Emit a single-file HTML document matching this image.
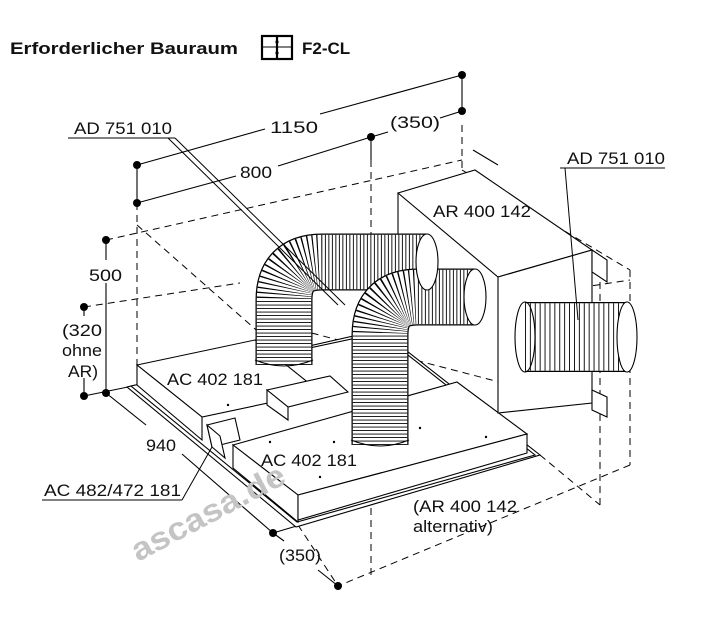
<!DOCTYPE html>
<html><head><meta charset="utf-8"><style>
html,body{margin:0;padding:0;background:#fff}
svg{display:block}
text{font-family:"Liberation Sans",Arial,sans-serif;fill:#111}
</style></head><body>
<svg width="705" height="640" viewBox="0 0 705 640" xmlns="http://www.w3.org/2000/svg">
<text x="10" y="54" font-size="17" font-weight="bold" textLength="228" lengthAdjust="spacingAndGlyphs">Erforderlicher Bauraum</text>
<g stroke="#000" stroke-width="2.2" fill="none">
<rect x="262" y="36" width="30" height="23"/>
<line x1="277" y1="36" x2="277" y2="59"/>
<line x1="262" y1="47" x2="292" y2="47" stroke-width="1"/>
</g>
<circle cx="277" cy="42" r="1.6"/><circle cx="277" cy="53" r="1.6"/>
<text x="302" y="54" font-size="17" font-weight="bold">F2-CL</text>

<g stroke="#000" stroke-width="1" fill="none" stroke-dasharray="7,5">
<line x1="106" y1="240" x2="462" y2="160"/>
<line x1="137" y1="203" x2="137" y2="378"/>
<line x1="137" y1="225" x2="330" y2="395"/>
<line x1="84" y1="307" x2="240" y2="283"/>
<line x1="371" y1="160" x2="371" y2="580"/>
<line x1="462" y1="125" x2="462" y2="170"/>
<line x1="462" y1="170" x2="630" y2="270"/>
<line x1="630" y1="270" x2="630" y2="465"/>
<line x1="630" y1="465" x2="338" y2="586"/>
<line x1="540" y1="455" x2="600" y2="505"/>
<line x1="600" y1="505" x2="600" y2="265"/>
<line x1="298" y1="525" x2="338" y2="586"/>
<line x1="300" y1="330" x2="530" y2="390"/>
<line x1="498" y1="300" x2="630" y2="280"/>
<line x1="498" y1="390" x2="630" y2="360"/>
<line x1="260" y1="357" x2="330" y2="400"/>
</g>

<g stroke="#000" stroke-width="1.1" fill="none">
<line x1="137" y1="165" x2="265" y2="129"/>
<line x1="320" y1="114" x2="462" y2="75"/>
<line x1="462" y1="75" x2="462" y2="111"/>
<line x1="137" y1="165" x2="137" y2="203"/>
<line x1="137" y1="203" x2="236" y2="176"/>
<line x1="278" y1="166" x2="371" y2="137"/>
<line x1="371" y1="137" x2="371" y2="160"/>
<line x1="371" y1="137" x2="388" y2="132"/>
<line x1="440" y1="118" x2="462" y2="111"/>
<line x1="106" y1="240" x2="106" y2="260"/>
<line x1="106" y1="283" x2="106" y2="393"/>
<line x1="84" y1="307" x2="84" y2="316"/>
<line x1="84" y1="378" x2="84" y2="396"/>
<line x1="84" y1="396" x2="128" y2="387"/>
<line x1="106" y1="393" x2="146" y2="425"/>
<line x1="182" y1="454" x2="273" y2="533"/>
<line x1="273" y1="533" x2="284" y2="541"/>
<line x1="318" y1="570" x2="338" y2="586"/>
<line x1="273" y1="533" x2="300" y2="525"/>
</g>
<g fill="#000">
<circle cx="462" cy="75" r="4"/><circle cx="462" cy="111" r="4"/>
<circle cx="371" cy="137" r="4"/><circle cx="137" cy="165" r="4"/>
<circle cx="137" cy="203" r="4"/><circle cx="106" cy="240" r="4"/>
<circle cx="84" cy="307" r="4"/><circle cx="84" cy="396" r="4"/>
<circle cx="106" cy="393" r="4"/><circle cx="273" cy="533" r="4"/>
<circle cx="338" cy="586" r="4"/>
</g>

<g stroke="#000" stroke-width="1.1" fill="#fff">
<polygon points="127,387 380,330 540,455 296,527"/>
<polygon points="131,386 380,333 535,455 297,522"/>
<polygon points="137,365 255,340 320,392 202,417"/>
<polygon points="137,365 202,417 202,440 137,385"/>
<polygon points="207,425 235,418 240,440 212,447"/>
<polygon points="207,425 212,447 225,458 220,436"/>
<polygon points="267,390 330,376 348,392 288,407"/>
<polygon points="267,390 288,407 288,420 267,405"/>
<polygon points="233,445 457,382 527,434 298,495"/>
<polygon points="233,445 298,495 298,522 233,468"/>
<polygon points="298,495 527,434 527,453 298,520"/>
<polygon points="398,193 475,170 592,250 498,277"/>
<polygon points="498,277 592,250 592,403 498,413"/>
<line x1="398" y1="193" x2="398" y2="260"/>
<line x1="473" y1="150" x2="498" y2="165"/>
<polygon points="592,250 607,260 607,282 592,272"/>
<polygon points="592,390 607,397 607,417 592,410"/>
</g>
<g fill="#000">
<circle cx="228" cy="405" r="1.2"/><circle cx="334" cy="442" r="1.2"/><circle cx="320" cy="477" r="1.2"/>
<circle cx="420" cy="428" r="1.2"/><circle cx="486" cy="437" r="1.2"/><circle cx="270" cy="442" r="1.2"/>
</g>

<g fill="none">
<path d="M284,365 V300 Q284,262 322,262 H427" stroke="#000" stroke-width="57"/>
<path d="M284,365 V300 Q284,262 322,262 H427" stroke="#fff" stroke-width="54.5"/>
<path d="M284,365 V300 Q284,262 322,262 H427" stroke="#000" stroke-width="54.5" stroke-dasharray="0.9,2.6"/>
<path d="M380,445 V335 Q380,297 418,297 H475" stroke="#000" stroke-width="57"/>
<path d="M380,445 V335 Q380,297 418,297 H475" stroke="#fff" stroke-width="54.5"/>
<path d="M380,445 V335 Q380,297 418,297 H475" stroke="#000" stroke-width="54.5" stroke-dasharray="0.9,2.6"/>
<path d="M525,337 H627" stroke="#000" stroke-width="70"/>
<path d="M525,337 H627" stroke="#fff" stroke-width="67.5"/>
<path d="M525,337 H627" stroke="#000" stroke-width="67.5" stroke-dasharray="0.9,4"/>
</g>
<g stroke="#000" stroke-width="1.1" fill="#fff">
<ellipse cx="427" cy="262" rx="11" ry="28"/>
<ellipse cx="475" cy="297" rx="11" ry="28"/>
<ellipse cx="627" cy="337" rx="10" ry="35"/>
<ellipse cx="525" cy="337" rx="10" ry="35" fill="none"/>
<path d="M255,360 Q284,372 313,360" fill="none"/>
<path d="M351,440 Q380,452 409,440" fill="none"/>
</g>

<g stroke="#000" stroke-width="1" fill="none">
<line x1="68" y1="138" x2="175" y2="138"/>
<line x1="175" y1="138" x2="345" y2="305"/>
<line x1="168" y1="138" x2="338" y2="305"/>
<line x1="560" y1="168" x2="665" y2="168"/>
<line x1="565" y1="168" x2="578" y2="320"/>
<line x1="42" y1="500" x2="182" y2="500"/>
<line x1="182" y1="500" x2="212" y2="447"/>
</g>

<g font-size="17">
<text x="74" y="134" textLength="98" lengthAdjust="spacingAndGlyphs">AD 751 010</text>
<text x="270" y="133" textLength="48" lengthAdjust="spacingAndGlyphs">1150</text>
<text x="390" y="128" textLength="50" lengthAdjust="spacingAndGlyphs">(350)</text>
<text x="240" y="178" textLength="32" lengthAdjust="spacingAndGlyphs">800</text>
<text x="89" y="281" textLength="33" lengthAdjust="spacingAndGlyphs">500</text>
<text x="62" y="336" textLength="40" lengthAdjust="spacingAndGlyphs">(320</text>
<text x="62" y="356" textLength="40" lengthAdjust="spacingAndGlyphs">ohne</text>
<text x="68" y="377" textLength="30" lengthAdjust="spacingAndGlyphs">AR)</text>
<text x="567" y="164" textLength="98" lengthAdjust="spacingAndGlyphs">AD 751 010</text>
<text x="433" y="217" textLength="98" lengthAdjust="spacingAndGlyphs">AR 400 142</text>
<text x="167" y="385" textLength="96" lengthAdjust="spacingAndGlyphs">AC 402 181</text>
<text x="261" y="466" textLength="96" lengthAdjust="spacingAndGlyphs">AC 402 181</text>
<text x="146" y="451" textLength="30" lengthAdjust="spacingAndGlyphs">940</text>
<text x="44" y="496" textLength="137" lengthAdjust="spacingAndGlyphs">AC 482/472 181</text>
<text x="413" y="512" textLength="104" lengthAdjust="spacingAndGlyphs">(AR 400 142</text>
<text x="413" y="532" textLength="80" lengthAdjust="spacingAndGlyphs">alternativ)</text>
<text x="279" y="561" textLength="42" lengthAdjust="spacingAndGlyphs">(350)</text>
</g>
<text x="0" y="0" font-size="32" font-weight="bold" textLength="170" lengthAdjust="spacingAndGlyphs" style="fill:#c4c4c4" transform="translate(138,562) rotate(-28)">ascasa.de</text>
</svg>
</body></html>
